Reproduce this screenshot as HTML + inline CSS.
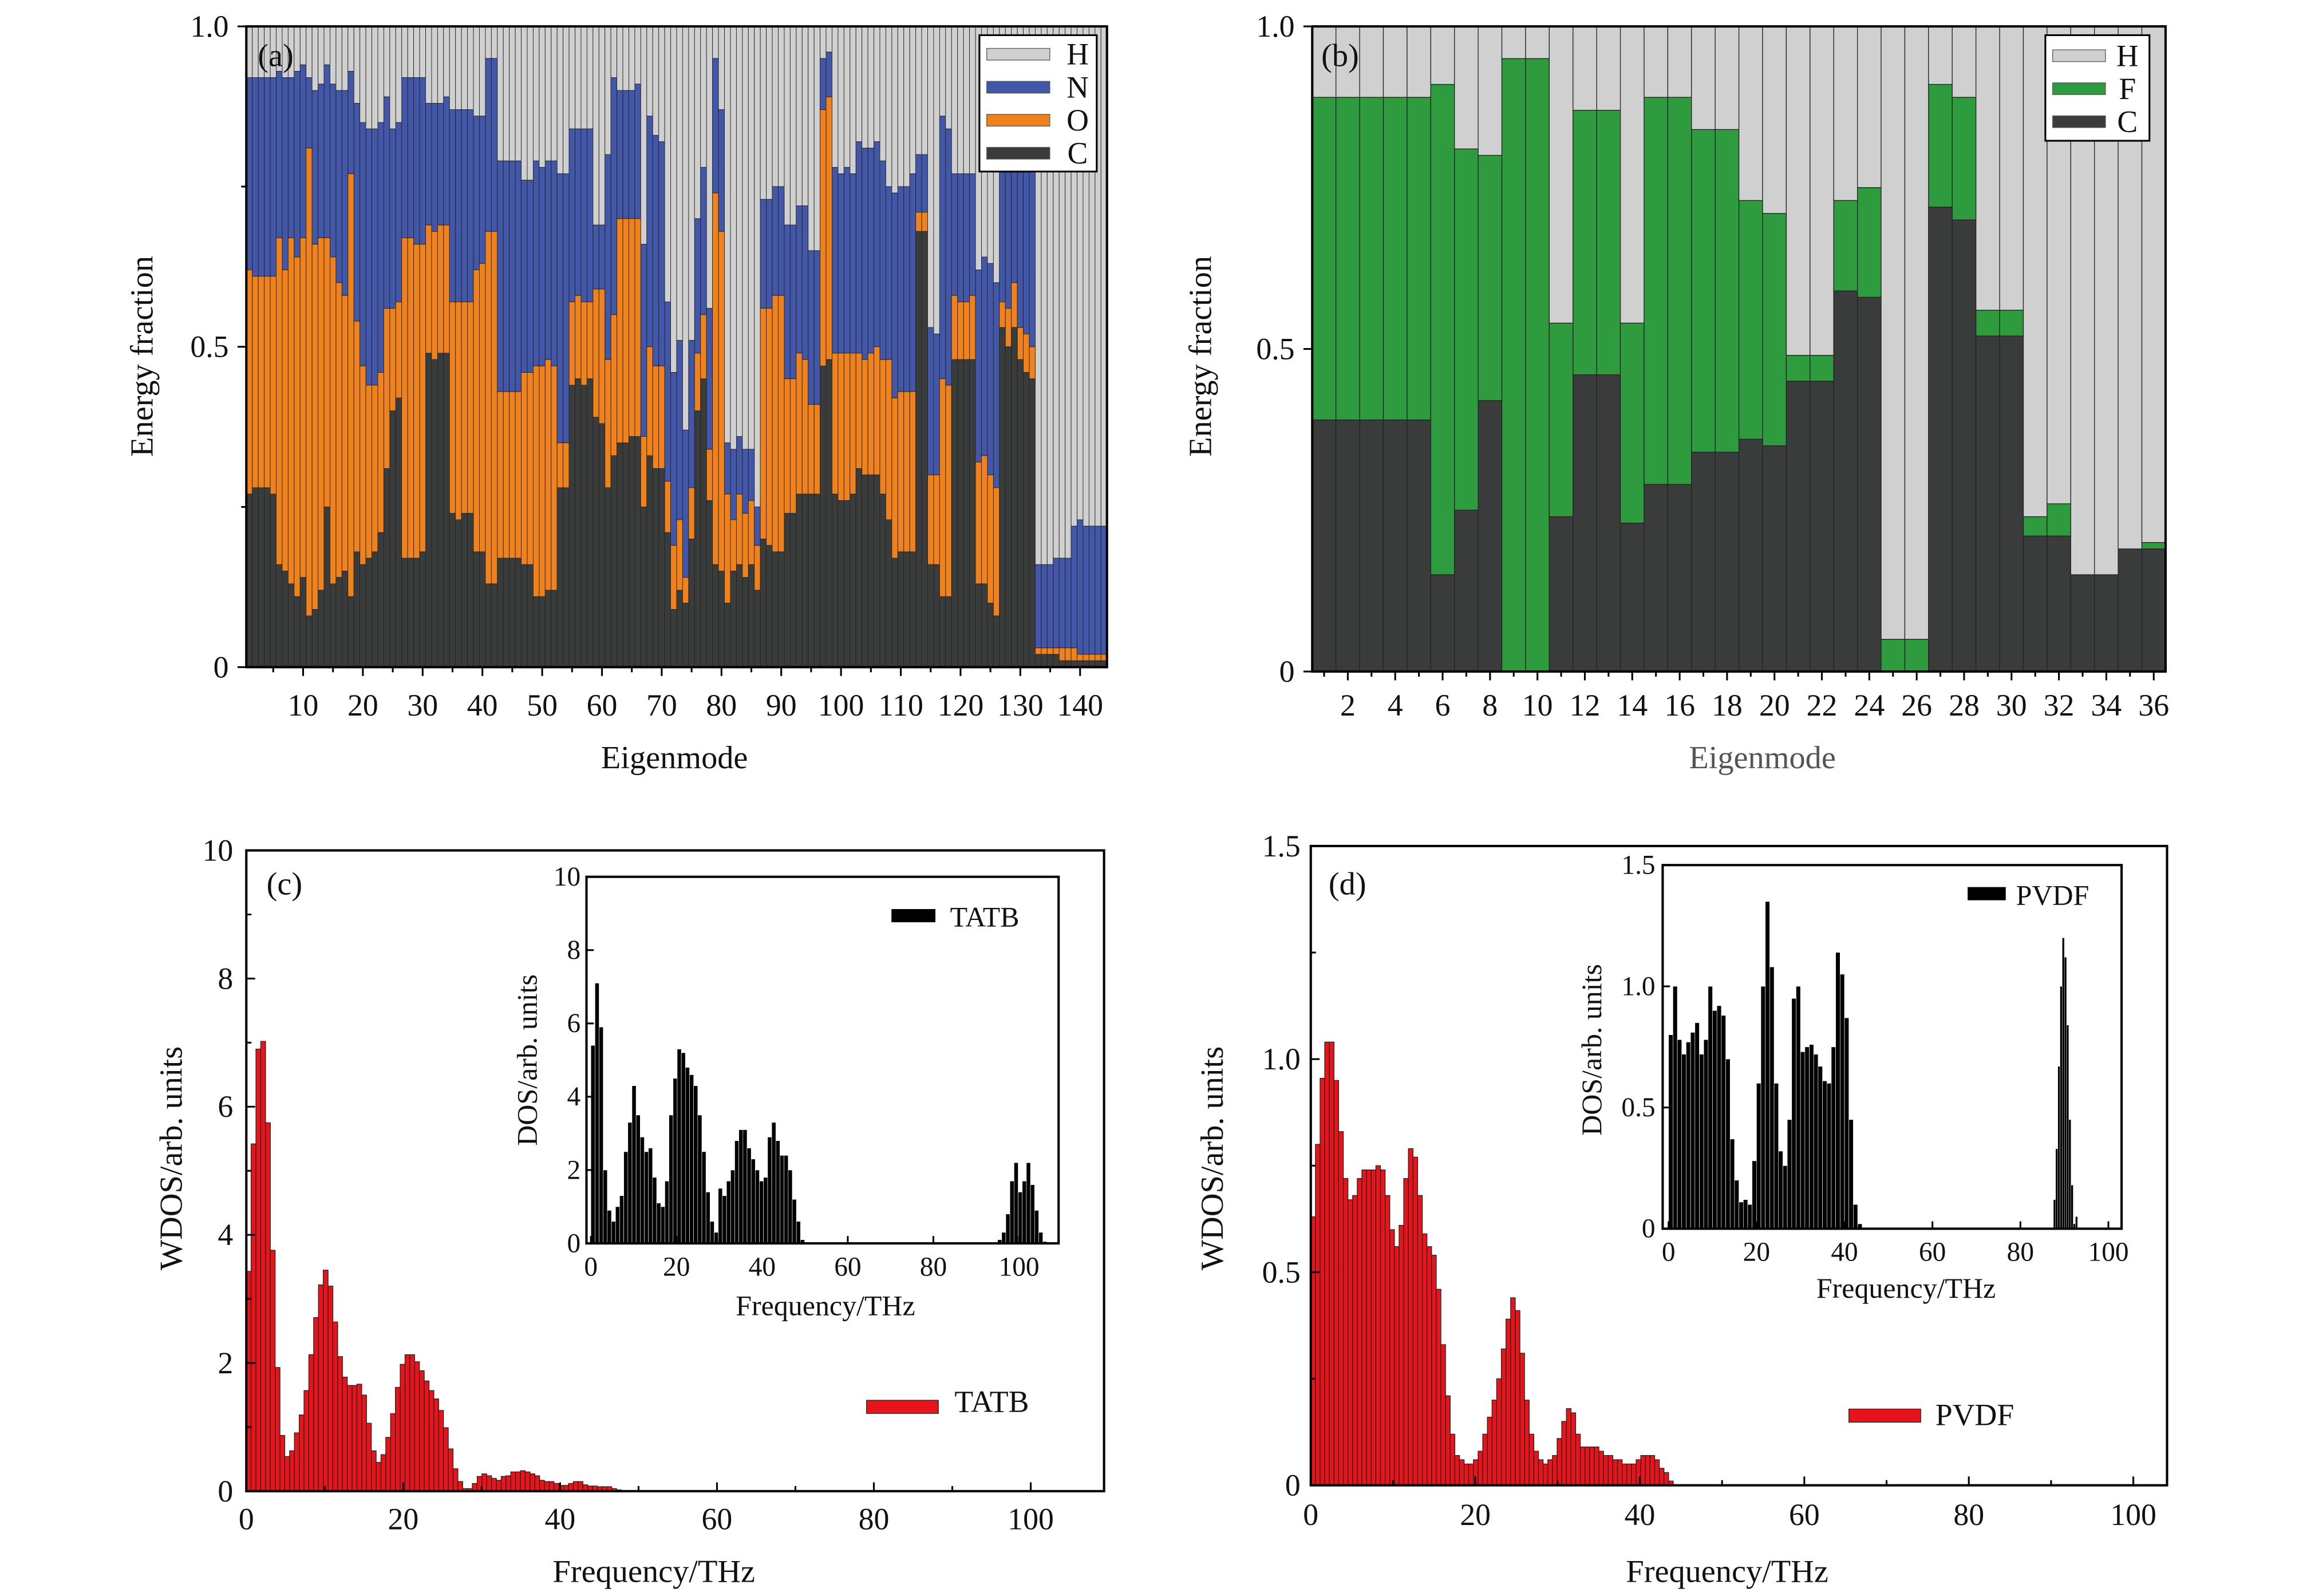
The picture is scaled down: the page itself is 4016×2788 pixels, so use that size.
<!DOCTYPE html>
<html><head><meta charset="utf-8"><style>
html,body{margin:0;padding:0;background:#fff;}
svg{display:block;}
text{font-family:"Liberation Serif",serif;fill:#111;}
</style></head><body>
<svg id="fig" xmlns="http://www.w3.org/2000/svg" width="4016" height="2788" viewBox="0 0 1568 1088.5" preserveAspectRatio="none">
<rect x="0" y="0" width="1568" height="1088.5" fill="#fff"/>
<g id="pa"></g>
<g id="pb"></g>
<g id="pc"></g>
<g id="pd"></g>
</svg>
<script>
// ---------- Panel (a) data: cumulative fractions per eigenmode ----------
const aC=[.27,.28,.28,.28,.27,.16,.15,.13,.11,.14,.08,.09,.12,.25,.13,.14,.15,.11,.18,.16,.17,.18,.21,.31,.40,.42,.17,.17,.17,.18,.49,.48,.49,.49,.24,.23,.24,.24,.18,.18,.13,.13,.17,.17,.17,.17,.16,.16,.11,.11,.12,.12,.28,.28,.44,.45,.44,.45,.39,.38,.28,.33,.35,.35,.36,.36,.25,.33,.31,.31,.21,.09,.12,.10,.20,.40,.45,.26,.16,.15,.10,.15,.16,.14,.16,.12,.20,.19,.18,.18,.24,.24,.27,.27,.27,.27,.47,.48,.27,.26,.26,.27,.31,.30,.30,.30,.27,.23,.17,.18,.18,.18,.68,.68,.16,.16,.11,.11,.48,.48,.48,.48,.13,.13,.10,.08,.53,.50,.53,.48,.46,.45,.02,.02,.02,.02,.01,.01,.01,.01,.01,.01,.01,.01];
const aCO=[.62,.61,.61,.61,.61,.67,.62,.67,.64,.67,.81,.66,.67,.67,.64,.60,.58,.77,.54,.47,.44,.44,.46,.56,.56,.57,.67,.67,.66,.66,.69,.68,.69,.69,.57,.57,.57,.57,.62,.63,.68,.68,.43,.43,.43,.43,.46,.46,.47,.47,.48,.47,.35,.35,.57,.58,.57,.57,.59,.59,.48,.55,.70,.70,.70,.70,.36,.50,.47,.47,.29,.19,.23,.14,.28,.49,.55,.34,.74,.68,.27,.23,.27,.24,.26,.19,.56,.56,.58,.58,.45,.45,.49,.48,.41,.41,.87,.89,.49,.49,.49,.49,.49,.48,.49,.50,.48,.48,.42,.43,.43,.43,.71,.71,.30,.30,.45,.44,.58,.57,.57,.58,.32,.33,.30,.28,.57,.56,.60,.53,.52,.50,.03,.03,.03,.03,.03,.03,.03,.02,.02,.02,.02,.02];
const aCON=[.92,.92,.92,.92,.92,.93,.92,.92,.93,.94,.92,.90,.91,.94,.91,.90,.90,.93,.88,.85,.84,.84,.85,.89,.84,.85,.92,.92,.92,.92,.88,.88,.88,.89,.87,.87,.87,.87,.86,.86,.95,.95,.79,.79,.79,.79,.76,.76,.79,.78,.79,.79,.77,.77,.84,.84,.84,.84,.69,.69,.80,.92,.90,.90,.90,.91,.66,.86,.83,.82,.57,.46,.51,.37,.51,.70,.78,.56,.95,.87,.35,.34,.36,.34,.34,.25,.73,.73,.75,.75,.69,.69,.72,.72,.65,.65,.95,.96,.78,.77,.78,.77,.82,.81,.81,.82,.79,.75,.74,.75,.75,.77,.80,.80,.53,.52,.86,.84,.77,.77,.77,.77,.62,.64,.63,.60,.78,.78,.78,.78,.78,.78,.16,.16,.16,.17,.17,.17,.22,.23,.22,.22,.22,.22];
const aTicks=[10,20,30,40,50,60,70,80,90,100,110,120,130,140];
// ---------- Panel (b) data ----------
const bC=[.39,.39,.39,.39,.39,.15,.25,.42,0,0,.24,.46,.46,.23,.29,.29,.34,.34,.36,.35,.45,.45,.59,.58,0,0,.72,.70,.52,.52,.21,.21,.15,.15,.19,.19];
const bCF=[.89,.89,.89,.89,.89,.91,.81,.80,.95,.95,.54,.87,.87,.54,.89,.89,.84,.84,.73,.71,.49,.49,.73,.75,.05,.05,.91,.89,.56,.56,.24,.26,.15,.15,.19,.20];
const bTicks=[2,4,6,8,10,12,14,16,18,20,22,24,26,28,30,32,34,36];
// ---------- Panel (c) data ----------
const cBin=0.613;
const cWdos=[3.43,5.42,6.90,7.02,5.75,3.76,1.93,0.87,0.54,0.63,0.91,1.19,1.57,2.13,2.71,3.22,3.45,3.20,2.64,2.10,1.78,1.65,1.65,1.67,1.50,1.06,0.63,0.45,0.57,0.84,1.21,1.62,1.98,2.13,2.13,2.02,1.88,1.72,1.57,1.44,1.26,0.99,0.66,0.35,0.15,0.04,0.04,0.12,0.23,0.27,0.24,0.20,0.17,0.23,0.24,0.30,0.30,0.32,0.30,0.27,0.24,0.17,0.15,0.15,0.12,0.09,0.09,0.12,0.15,0.15,0.10,0.08,0.08,0.07,0.07,0.07,0.04,0.02];
const icBin=0.96;
const icLow=[5.4,7.1,5.9,2.0,0.9,0.6,1.0,1.3,2.5,3.3,4.3,3.5,2.9,2.5,2.6,1.8,1.1,1.0,1.7,3.5,4.5,5.3,5.2,4.8,4.6,4.3,3.5,2.5,1.4,0.6,0.3,1.5,1.3,1.7,2.0,2.8,3.1,3.1,2.6,2.3,2.0,1.7,1.8,2.9,3.3,2.8,2.4,2.4,2.0,1.2,0.6,0.1];
const icHighStart=95;
const icHigh=[0.1,0.3,0.8,1.7,2.2,1.4,1.7,2.2,1.6,0.9,0.3,0.05];
// ---------- Panel (d) data ----------
const dBin=0.565;
const dWdos=[0.63,0.80,0.955,1.04,1.04,0.95,0.83,0.72,0.67,0.68,0.72,0.74,0.74,0.74,0.75,0.74,0.68,0.60,0.56,0.61,0.72,0.79,0.77,0.68,0.59,0.56,0.54,0.46,0.33,0.21,0.12,0.07,0.06,0.05,0.05,0.06,0.08,0.12,0.16,0.20,0.25,0.32,0.39,0.44,0.41,0.31,0.20,0.12,0.08,0.06,0.05,0.06,0.07,0.11,0.15,0.18,0.17,0.12,0.09,0.09,0.09,0.09,0.08,0.07,0.07,0.06,0.06,0.05,0.05,0.05,0.06,0.07,0.07,0.07,0.06,0.04,0.03,0.01];
const idBin=1.0;
const idLow=[0.8,1.0,0.78,0.72,0.77,0.81,0.85,0.72,0.78,1.0,0.9,0.92,0.88,0.7,0.37,0.2,0.11,0.12,0.1,0.28,0.6,1.0,1.35,1.08,0.6,0.32,0.26,0.45,0.95,1.0,0.73,0.75,0.76,0.72,0.67,0.61,0.6,0.75,1.14,1.05,0.87,0.45,0.1,0.02];
const idHighStart=87.5, idHighBin=0.5;
const idHigh=[0.12,0.33,0.67,1.0,1.2,1.12,0.84,0.45,0.18,0.02,0.05];
const freqTicksC=[0,20,40,60,80,100];
const wdosTicksC=[0,2,4,6,8,10];
const wdosTicksD=[0,0.5,1.0,1.5];
const wdosTickLabelsD=["0","0.5","1.0","1.5"];

const NS="http://www.w3.org/2000/svg";
function mk(parent,tag,attrs,txt){const e=document.createElementNS(NS,tag);for(const k in attrs)e.setAttribute(k,attrs[k]);if(txt!==undefined)e.textContent=txt;parent.appendChild(e);return e;}
const COL={H:"#d0d0d0",N:"#4257a8",O:"#f0821e",C:"#3a3c3b",F:"#2e9b3e",R:"#e8141c"};
const TS=21, AS=22, IS=18.5;

function frame(g,x0,y0,x1,y1,name){const r=mk(g,'rect',{x:x0,y:y0,width:x1-x0,height:y1-y0,fill:'none',stroke:'#000','stroke-width':1.6});

}
function txt(g,x,y,s,size,anchor,name,extra){const t=mk(g,'text',Object.assign({x:x,y:y,'font-size':size,'text-anchor':anchor||'middle'},extra||{}),s);

return t;}
function line(g,x1,y1,x2,y2,w,name){const l=mk(g,'line',{x1:x1,y1:y1,x2:x2,y2:y2,stroke:'#000','stroke-width':w||1.2});

}
function rect(g,x,y,w,h,fill,stroke,sw,name){const r=mk(g,'rect',{x:x,y:y,width:Math.max(w,0),height:Math.max(h,0),fill:fill,stroke:stroke||'none','stroke-width':sw||0});

return r;}

// ===== Panel (a) =====
(function(){const g=document.getElementById('pa');
const X0=168,X1=755,Y0=18,Y1=455,n=aC.length,w=(X1-X0)/n;
const y=v=>Y1-v*(Y1-Y0);
for(let i=0;i<n;i++){const x=X0+i*w;
rect(g,x,y(1),w,y(aCON[i])-y(1),COL.H,'#222',0.35,'bar-h');
rect(g,x,y(aCON[i]),w,y(aCO[i])-y(aCON[i]),COL.N,'#222',0.35,'bar-n');
rect(g,x,y(aCO[i]),w,y(aC[i])-y(aCO[i]),COL.O,'#222',0.35,'bar-o');
rect(g,x,y(aC[i]),w,y(0)-y(aC[i]),COL.C,'#222',0.35,'bar-c');}
frame(g,X0,Y0,X1,Y1,'plot-frame-a');
for(let k=5;k<=n;k+=5){const xc=X0+(k-0.5)*w;line(g,xc,Y1,xc,Y1+(k%10===0?6:3.5),1.2,'x-tick');}
aTicks.forEach(k=>txt(g,X0+(k-0.5)*w,488,String(k),TS,'middle','x-tick-label'));
[[0,"0"],[0.5,"0.5"],[1,"1.0"]].forEach(t=>{line(g,X0-6,y(t[0]),X0,y(t[0]),1.2,'y-tick');txt(g,156,y(t[0])+7,t[1],TS,'end','y-tick-label');});
[0.25,0.75].forEach(v=>line(g,X0-3.5,y(v),X0,y(v),1.2,'y-minor-tick'));
txt(g,460,524,'Eigenmode',AS,'middle','x-axis-title');
txt(g,0,0,'Energy fraction',AS,'middle','y-axis-title',{transform:'translate(104,243) rotate(-90)'});
txt(g,188,45,'(a)',AS,'middle','panel-label');
const lg=mk(g,'g',{});
rect(lg,668,24,80,93,'#fff','#000',1.2,'legend-box');
[['H',COL.H],['N',COL.N],['O',COL.O],['C',COL.C]].forEach((e,i)=>{const yy=37+i*22.5;rect(lg,673,yy-4,43,8,e[1],'#555',0.5,'legend-swatch-'+e[0]);txt(lg,735,yy+7,e[0],TS,'middle','legend-label-'+e[0]);});
})();

// ===== Panel (b) =====
(function(){const g=document.getElementById('pb');
const X0=895,X1=1477,Y0=18,Y1=458,n=bC.length,w=(X1-X0)/n;
const y=v=>Y1-v*(Y1-Y0);
for(let i=0;i<n;i++){const x=X0+i*w;
rect(g,x,y(1),w,y(bCF[i])-y(1),COL.H,'#222',0.5,'bar-h');
rect(g,x,y(bCF[i]),w,y(bC[i])-y(bCF[i]),COL.F,'#222',0.5,'bar-f');
rect(g,x,y(bC[i]),w,y(0)-y(bC[i]),COL.C,'#222',0.5,'bar-c');}
frame(g,X0,Y0,X1,Y1,'plot-frame-b');
for(let k=1;k<=n;k++){const xc=X0+(k-0.5)*w;line(g,xc,Y1,xc,Y1+(k%2===0?6:3.5),1.2,'x-tick');}
bTicks.forEach(k=>txt(g,X0+(k-0.5)*w,488,String(k),TS,'middle','x-tick-label'));
[[0,"0"],[0.5,"0.5"],[1,"1.0"]].forEach(t=>{line(g,X0-6,y(t[0]),X0,y(t[0]),1.2,'y-tick');txt(g,883,y(t[0])+7,t[1],TS,'end','y-tick-label');});
txt(g,1202,524,'Eigenmode',AS,'middle','x-axis-title',{style:'fill:#555'});
txt(g,0,0,'Energy fraction',AS,'middle','y-axis-title',{transform:'translate(826,243) rotate(-90)'});
txt(g,914,45,'(b)',AS,'middle','panel-label');
const lg=mk(g,'g',{});
rect(lg,1395,24,71,72,'#fff','#000',1.2,'legend-box');
[['H',COL.H],['F',COL.F],['C',COL.C]].forEach((e,i)=>{const yy=38+i*22.5;rect(lg,1400,yy-4,36,8,e[1],'#555',0.5,'legend-swatch-'+e[0]);txt(lg,1451,yy+7,e[0],TS,'middle','legend-label-'+e[0]);});
})();

function histo(g,vals,start,bin,xf,yf,fill,stroke,sw,name){vals.forEach((v,i)=>{const f=start+i*bin;const x=xf(f),x2=xf(f+bin);rect(g,x,yf(v),x2-x,yf(0)-yf(v),fill,stroke,sw,name);});}

// ===== Panel (c) =====
(function(){const g=document.getElementById('pc');
const X0=168,X1=753,Y0=580,Y1=1017;
const x=f=>X0+f*5.35, y=v=>Y1-v*43.7;
histo(g,cWdos,0,cBin,x,y,COL.R,'#222',0.5,'wdos-bar');
frame(g,X0,Y0,X1,Y1,'plot-frame-c');
freqTicksC.forEach(f=>{line(g,x(f),Y1,x(f),Y1-6,1.2,'x-tick');txt(g,x(f),1043,String(f),TS,'middle','x-tick-label');});
[10,30,50,70,90,110].forEach(f=>{if(x(f)<X1)line(g,x(f),Y1,x(f),Y1-3.5,1.2,'x-minor-tick');});
wdosTicksC.forEach(v=>{line(g,X0,y(v),X0+6,y(v),1.2,'y-tick');txt(g,159,y(v)+7,String(v),TS,'end','y-tick-label');});
[1,3,5,7,9].forEach(v=>line(g,X0,y(v),X0+3.5,y(v),1.2,'y-minor-tick'));
txt(g,446,1079,'Frequency/THz',AS,'middle','x-axis-title');
txt(g,0,0,'WDOS/arb. units',AS,'middle','y-axis-title',{transform:'translate(124,790) rotate(-90)'});
txt(g,194,610,'(c)',AS,'middle','panel-label');
rect(g,591,955,49,9,COL.R,'#222',0.5,'legend-swatch-tatb');
txt(g,651,963,'TATB',TS,'start','legend-label-tatb');
const IX0=400,IX1=722,IY0=598,IY1=848;
const ix=f=>403+f*2.92, iy=v=>IY1-v*25;
const ig=mk(g,'g',{});
rect(ig,IX0,IY0,IX1-IX0,IY1-IY0,'#fff','none',0,'inset-bg');
histo(ig,icLow,0,icBin,ix,iy,'#000','#fff',0.25,'dos-bar');
histo(ig,icHigh,icHighStart,icBin,ix,iy,'#000','#fff',0.25,'dos-bar');
frame(ig,IX0,IY0,IX1,IY1,'inset-frame-c');
freqTicksC.forEach(f=>{line(ig,ix(f),IY1,ix(f),IY1-5,1.2,'x-tick');txt(ig,ix(f),870,String(f),IS,'middle','x-tick-label');});
wdosTicksC.forEach(v=>{line(ig,IX0,iy(v),IX0+5,iy(v),1.2,'y-tick');txt(ig,396,iy(v)+6,String(v),IS,'end','y-tick-label');});
txt(ig,563,897,'Frequency/THz',19.5,'middle','x-axis-title');
txt(ig,0,0,'DOS/arb. units',19.5,'middle','y-axis-title',{transform:'translate(366,723) rotate(-90)'});
rect(ig,608,620,30,9,'#000','none',0,'legend-swatch-tatb');
txt(ig,648,632,'TATB',19.5,'start','legend-label-tatb');
})();

// ===== Panel (d) =====
(function(){const g=document.getElementById('pd');
const X0=894,X1=1478,Y0=577,Y1=1013;
const x=f=>X0+f*5.61, y=v=>Y1-v*290.67;
histo(g,dWdos,0,dBin,x,y,COL.R,'#222',0.5,'wdos-bar');
frame(g,X0,Y0,X1,Y1,'plot-frame-d');
freqTicksC.forEach(f=>{line(g,x(f),Y1,x(f),Y1-6,1.2,'x-tick');txt(g,x(f),1040,String(f),TS,'middle','x-tick-label');});
[10,30,50,70,90].forEach(f=>line(g,x(f),Y1,x(f),Y1-3.5,1.2,'x-minor-tick'));
wdosTicksD.forEach((v,i)=>{line(g,X0,y(v),X0+6,y(v),1.2,'y-tick');txt(g,887,y(v)+7,wdosTickLabelsD[i],TS,'end','y-tick-label');});
[0.25,0.75,1.25].forEach(v=>line(g,X0,y(v),X0+3.5,y(v),1.2,'y-minor-tick'));
txt(g,1178,1079,'Frequency/THz',AS,'middle','x-axis-title');
txt(g,0,0,'WDOS/arb. units',AS,'middle','y-axis-title',{transform:'translate(834,790) rotate(-90)'});
txt(g,919,610,'(d)',AS,'middle','panel-label');
rect(g,1261,961,49,9,COL.R,'#222',0.5,'legend-swatch-pvdf');
txt(g,1320,972,'PVDF',TS,'start','legend-label-pvdf');
const IX0=1134,IX1=1447,IY0=590,IY1=838;
const ix=f=>1138+f*3.0, iy=v=>IY1-v*165.3;
const ig=mk(g,'g',{});
rect(ig,IX0,IY0,IX1-IX0,IY1-IY0,'#fff','none',0,'inset-bg');
histo(ig,idLow,0,idBin,ix,iy,'#000','#fff',0.25,'dos-bar');
histo(ig,idHigh,idHighStart,idHighBin,ix,iy,'#000','#fff',0.2,'dos-bar');
frame(ig,IX0,IY0,IX1,IY1,'inset-frame-d');
freqTicksC.forEach(f=>{line(ig,ix(f),IY1,ix(f),IY1-5,1.2,'x-tick');txt(ig,ix(f),860,String(f),IS,'middle','x-tick-label');});
wdosTicksD.forEach((v,i)=>{line(ig,IX0,iy(v),IX0+5,iy(v),1.2,'y-tick');txt(ig,1129,iy(v)+6,wdosTickLabelsD[i],IS,'end','y-tick-label');});
txt(ig,1300,885,'Frequency/THz',19.5,'middle','x-axis-title');
txt(ig,0,0,'DOS/arb. units',19.5,'middle','y-axis-title',{transform:'translate(1092,716) rotate(-90)'});
rect(ig,1342,605,26,9,'#000','none',0,'legend-swatch-pvdf');
txt(ig,1375,617,'PVDF',19.5,'start','legend-label-pvdf');
})();
</script>
</body></html>
